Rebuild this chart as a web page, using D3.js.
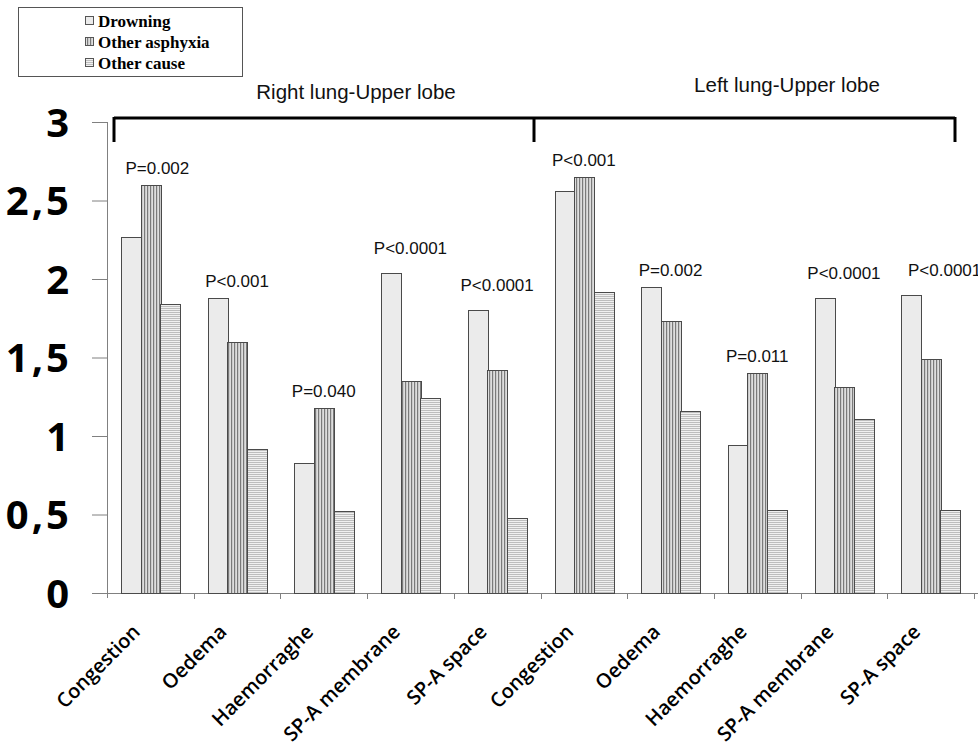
<!DOCTYPE html>
<html>
<head>
<meta charset="utf-8">
<script src="https://cdn.jsdelivr.net/npm/d3@7"></script>
<style>
  html, body { margin: 0; padding: 0; background: #fff; }
  svg { display: block; }
</style>
</head>
<body>
<svg id="chart" width="978" height="752"></svg>
<script>
// ---- data ----
const categories = ["Congestion","Oedema","Haemorraghe","SP-A membrane","SP-A space",
                    "Congestion","Oedema","Haemorraghe","SP-A membrane","SP-A space"];
const seriesNames = ["Drowning","Other asphyxia","Other cause"];
const drowning      = [2.27, 1.88, 0.83, 2.04, 1.80, 2.56, 1.95, 0.94, 1.88, 1.90];
const otherAsphyxia = [2.60, 1.60, 1.18, 1.35, 1.42, 2.65, 1.73, 1.40, 1.31, 1.49];
const otherCause    = [1.84, 0.92, 0.52, 1.24, 0.48, 1.92, 1.16, 0.53, 1.11, 0.53];
const pValues = ["P=0.002","P<0.001","P=0.040","P<0.0001","P<0.0001",
                 "P<0.001","P=0.002","P=0.011","P<0.0001","P<0.0001"];
const yTicks = [0, 0.5, 1, 1.5, 2, 2.5, 3];
const groupLabels = ["Right lung-Upper lobe", "Left lung-Upper lobe"];

const seriesValues = [drowning, otherAsphyxia, otherCause];

// ---- setup ----
const svg = d3.select("#chart");
svg.append("rect").attr("width", 978).attr("height", 752).attr("fill", "#fff");

const defs = svg.append("defs");
// vertical hatch for Other asphyxia
const p1 = defs.append("pattern").attr("id", "pAsph").attr("patternUnits", "userSpaceOnUse")
  .attr("width", 3).attr("height", 3);
p1.append("rect").attr("width", 3).attr("height", 3).attr("fill", "#dedede");
p1.append("rect").attr("x", 0).attr("width", 1.2).attr("height", 3).attr("fill", "#7a7a7a");
// horizontal fine lines for Other cause
const p2 = defs.append("pattern").attr("id", "pCause").attr("patternUnits", "userSpaceOnUse")
  .attr("width", 2).attr("height", 2);
p2.append("rect").attr("width", 2).attr("height", 2).attr("fill", "#f0f0f0");
p2.append("rect").attr("y", 0).attr("width", 2).attr("height", 1).attr("fill", "#bdbdbd");

const fills = ["#ebebeb", "url(#pAsph)", "url(#pCause)"];

const y = d3.scaleLinear().domain([0, 3]).range([593, 122]);
const x0 = d3.scaleBand().domain(d3.range(categories.length)).range([107, 974]).padding(0);
const x1 = d3.scaleBand().domain(d3.range(seriesNames.length)).range([0, x0.bandwidth()])
  .paddingInner(0).paddingOuter(0.72);

// ---- axes ----
const yAxis = d3.axisLeft(y).tickValues(yTicks).tickSize(15).tickPadding(20)
  .tickFormat(d => String(d).replace(".", ","));
const gy = svg.append("g").attr("transform", "translate(107,0)").call(yAxis);
gy.select(".domain").remove();
gy.selectAll(".tick line").attr("stroke", "#808080");
gy.selectAll(".tick text")
  .attr("font-family", "'Open Sans', sans-serif")
  .attr("font-weight", "bold")
  .attr("font-size", 40)
  .attr("letter-spacing", 3)
  .attr("fill", "#000")
  .attr("dy", "0.36em");

// y axis line (extends slightly below baseline)
svg.append("line").attr("x1", 107.5).attr("x2", 107.5).attr("y1", y(3)).attr("y2", y(0) + 5)
  .attr("stroke", "#808080");
// x axis line
svg.append("line").attr("x1", 92).attr("x2", 978).attr("y1", y(0) + 0.5).attr("y2", y(0) + 0.5)
  .attr("stroke", "#808080");
// x category boundary ticks
svg.append("g").selectAll("line").data(d3.range(1, categories.length + 1)).join("line")
  .attr("x1", i => Math.round(x0(i - 1) + x0.bandwidth()) + 0.5)
  .attr("x2", i => Math.round(x0(i - 1) + x0.bandwidth()) + 0.5)
  .attr("y1", y(0)).attr("y2", y(0) + 6)
  .attr("stroke", "#808080");

// ---- bars ----
const barData = [];
categories.forEach((c, i) => {
  seriesValues.forEach((vals, s) => barData.push({ i, s, v: vals[i] }));
});
svg.append("g").selectAll("rect").data(barData).join("rect")
  .attr("x", d => Math.round(x0(d.i) + x1(d.s)) + 0.5)
  .attr("y", d => Math.round(y(d.v)) + 0.5)
  .attr("width", Math.round(x1.bandwidth()))
  .attr("height", d => Math.round(y(0)) - Math.round(y(d.v)))
  .attr("fill", d => fills[d.s])
  .attr("stroke", "#4a4a4a")
  .attr("stroke-width", 1);

// ---- p-value labels ----
svg.append("g").selectAll("text").data(pValues).join("text")
  .attr("x", (d, i) => x0(i) + x0.bandwidth() / 2 + (i === 0 ? 7 : 0) + (i === 9 ? 14 : 0))
  .attr("y", (d, i) => y(Math.max(drowning[i], otherAsphyxia[i], otherCause[i])) - (i % 5 >= 3 ? 19 : 11))
  .attr("text-anchor", "middle")
  .attr("font-family", "'Liberation Sans', Arial, sans-serif")
  .attr("font-size", 17)
  .attr("fill", "#111")
  .text(d => d);

// ---- category labels ----
svg.append("g").selectAll("text").data(categories).join("text")
  .attr("transform", (d, i) => `translate(${x0(i) + x0.bandwidth() / 2 - 9},${633}) rotate(-45)`)
  .attr("text-anchor", "end")
  .attr("font-family", "'Open Sans', sans-serif")
  .attr("font-weight", 600)
  .attr("font-size", 20)
  .attr("fill", "#000")
  .text(d => d);

// ---- bracket ----
const bracket = svg.append("g").attr("stroke", "#000").attr("stroke-width", 3).attr("fill", "none");
bracket.append("line").attr("x1", 114).attr("x2", 955).attr("y1", 118).attr("y2", 118);
[114, 534, 955].forEach(xx => {
  bracket.append("line").attr("x1", xx).attr("x2", xx).attr("y1", 117).attr("y2", 142);
});
svg.append("text").attr("x", 356).attr("y", 99).attr("text-anchor", "middle")
  .attr("font-family", "'Liberation Sans', Arial, sans-serif").attr("font-size", 20.5)
  .attr("fill", "#111").text(groupLabels[0]);
svg.append("text").attr("x", 787).attr("y", 92).attr("text-anchor", "middle")
  .attr("font-family", "'Liberation Sans', Arial, sans-serif").attr("font-size", 20.5)
  .attr("fill", "#111").text(groupLabels[1]);

// ---- legend ----
const lg = svg.append("g");
lg.append("rect").attr("x", 18.5).attr("y", 7.5).attr("width", 224).attr("height", 69)
  .attr("fill", "#fff").attr("stroke", "#555");
seriesNames.forEach((name, s) => {
  const cy = 21 + s * 21;
  lg.append("rect").attr("x", 85.5).attr("y", cy - 4.5).attr("width", 8).attr("height", 8)
    .attr("fill", fills[s]).attr("stroke", "#555");
  lg.append("text").attr("x", 98).attr("y", cy + 6)
    .attr("font-family", "'Liberation Serif', 'Times New Roman', serif")
    .attr("font-weight", "bold").attr("font-size", 17).attr("fill", "#000")
    .text(name);
});
</script>
</body>
</html>
